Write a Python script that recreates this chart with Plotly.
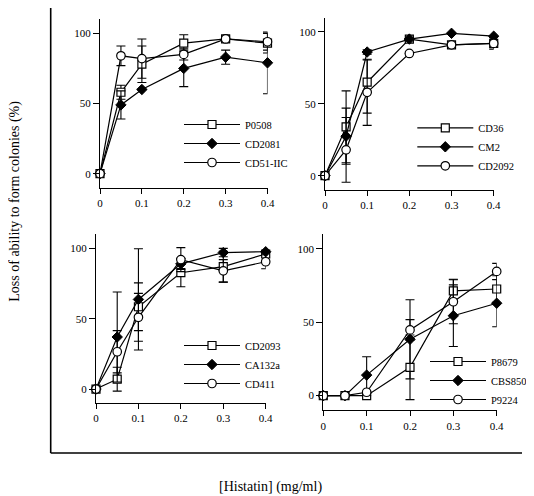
import plotly.graph_objects as go

# ---------------- data ----------------
conc = [0, 0.05, 0.1, 0.2, 0.3, 0.4]
x_tick_vals = [0, 0.1, 0.2, 0.3, 0.4]
x_tick_text = ["0", "0.1", "0.2", "0.3", "0.4"]
y_tick_vals = [0, 50, 100]
y_tick_text = ["0", "50", "100"]

# panel 1
p1_names = ["P0508", "CD2081", "CD51-IIC"]
p1_P0508 = [0, 58, 78, 93, 96, 93]
p1_P0508_err = [0, 5, 13, 6, 2, 7]
p1_CD2081 = [0, 49, 60, 75, 83, 79]
p1_CD2081_err = [0, 10, 0, 13, 5, 22]
p1_CD51 = [0, 84, 82, 85, 96, 94]
p1_CD51_err = [0, 7, 14, 4, 0, 6]

# panel 2
p2_names = ["CD36", "CM2", "CD2092"]
p2_CD36 = [0, 34, 65, 95, 91, 92]
p2_CD36_err_plus = [0, 25, 15.5, 0, 0, 4]
p2_CD36_err_minus = [0, 25, 21.5, 0, 0, 4]
p2_CM2 = [0, 27.5, 86, 95, 99, 97]
p2_CM2_err = [0, 19.5, 1.6, 0, 0, 0]
p2_CD2092 = [0, 18, 58, 85, 91, 92]
p2_CD2092_err = [0, 22.5, 23, 0, 0, 0]

# panel 3
p3_names = ["CD2093", "CA132a", "CD411"]
p3_CD2093 = [0, 7, 58.5, 82.7, 87, 96]
p3_CD2093_err = [0, 8.5, 17, 10, 11, 0]
p3_CA132a = [0, 37, 63.7, 89, 97, 97.6]
p3_CA132a_err = [0, 32, 36, 4, 3, 0]
p3_CD411 = [0, 26.5, 51, 92, 84, 90.5]
p3_CD411_err = [0, 15, 17, 8.5, 8, 5]

# panel 4
p4_names = ["P8679", "CBS8501", "P9224"]
p4_P8679 = [0, 0, 0, 19.3, 71.4, 72.7]
p4_P8679_err = [0, 0, 0, 22, 8, 9]
p4_CBS8501 = [0, 0, 14, 38.4, 54.5, 63]
p4_CBS8501_err = [0, 0, 12.5, 27, 21, 16]
p4_P9224 = [0, 0, 2.3, 44.8, 64, 84.7]
p4_P9224_err = [0, 0, 0, 7, 15, 5.5]

# ---------------- figure ----------------
W, H = 534, 496
OFF = 8  # page body margin offsets the figure inside the window
FONT = "Liberation Serif, Times New Roman, serif"

def px_x(p):
    return (p - OFF) / W

def px_y(p):
    return 1 - (p - OFF) / H

styles = [
    dict(symbol="square", size=8, color="white", line=dict(color="black", width=1.2)),
    dict(symbol="diamond", size=8, color="black", line=dict(color="black", width=1)),
    dict(symbol="circle", size=8.5, color="white", line=dict(color="black", width=1.2)),
]

fig = go.Figure()

def add(panel, name, y, style_idx, err_plus, err_minus=None):
    sfx = "" if panel == 1 else str(panel)
    ed = dict(type="data", array=err_plus, color="black", thickness=1.1, width=4.5)
    if err_minus is not None:
        ed["symmetric"] = False
        ed["arrayminus"] = err_minus
    fig.add_trace(go.Scatter(
        x=conc, y=y, name=name, mode="lines+markers",
        line=dict(color="black", width=1.2),
        marker=styles[style_idx],
        error_y=ed,
        cliponaxis=False,
        xaxis="x" + sfx, yaxis="y" + sfx,
        legend="legend" + sfx,
    ))

add(1, p1_names[0], p1_P0508, 0, p1_P0508_err)
add(1, p1_names[1], p1_CD2081, 1, p1_CD2081_err)
add(1, p1_names[2], p1_CD51, 2, p1_CD51_err)

add(2, p2_names[0], p2_CD36, 0, p2_CD36_err_plus, p2_CD36_err_minus)
add(2, p2_names[1], p2_CM2, 1, p2_CM2_err)
add(2, p2_names[2], p2_CD2092, 2, p2_CD2092_err)

add(3, p3_names[0], p3_CD2093, 0, p3_CD2093_err)
add(3, p3_names[1], p3_CA132a, 1, p3_CA132a_err)
add(3, p3_names[2], p3_CD411, 2, p3_CD411_err)

add(4, p4_names[0], p4_P8679, 0, p4_P8679_err)
add(4, p4_names[1], p4_CBS8501, 1, p4_CBS8501_err)
add(4, p4_names[2], p4_P9224, 2, p4_P9224_err)

# panel pixel boxes (window pixels): (x0, x1) for conc 0..0.4, (ytop, ybottom) for y 110..-10
panels = {
    1: ((100.0, 267.5), (19.3, 187.7)),
    2: ((325.0, 493.7), (17.5, 190.1)),
    3: ((96.0, 265.7), (234.3, 403.1)),
    4: ((323.3, 496.7), (234.3, 410.3)),
}
# legend anchor (window pixels) and anchor side
legend_pos = {
    1: (179.0, 110.0, "left"),
    2: (412.3, 113.3, "left"),
    3: (179.0, 331.0, "left"),
    4: (537.0, 347.0, "right"),
}

axis_common = dict(showline=True, linecolor="black", linewidth=1.3, ticks="outside",
                   tickcolor="black", tickwidth=1.2, showgrid=False, zeroline=False,
                   tickfont=dict(family=FONT, size=11, color="black"))

layout = dict(
    width=W, height=H, margin=dict(l=0, r=0, t=0, b=0, autoexpand=False),
    paper_bgcolor="white", plot_bgcolor="white",
    font=dict(family=FONT, color="black"),
)
for p, ((x0, x1), (yt, yb)) in panels.items():
    sfx = "" if p == 1 else str(p)
    layout["xaxis" + sfx] = dict(axis_common, domain=[px_x(x0), px_x(x1)], range=[0, 0.4],
                                 tickvals=x_tick_vals, ticktext=x_tick_text, ticklen=5,
                                 anchor="y" + sfx)
    layout["yaxis" + sfx] = dict(axis_common, domain=[px_y(yb), px_y(yt)], range=[-10, 110],
                                 tickvals=y_tick_vals, ticktext=y_tick_text, ticklen=6,
                                 anchor="x" + sfx)
    lx, ly, anc = legend_pos[p]
    layout["legend" + sfx] = dict(x=px_x(lx), y=px_y(ly), xanchor=anc, yanchor="top",
                                  bgcolor="rgba(0,0,0,0)", borderwidth=0, itemwidth=56,
                                  font=dict(family=FONT, size=10.5, color="black"),
                                  itemclick=False, itemdoubleclick=False)

fig.update_layout(**layout)

# outer frame
fig.add_shape(type="line", xref="paper", yref="paper", x0=px_x(50.7), x1=px_x(50.7),
              y0=px_y(8), y1=px_y(453), line=dict(color="black", width=1.6))
fig.add_shape(type="line", xref="paper", yref="paper", x0=px_x(50.7), x1=px_x(522),
              y0=px_y(453), y1=px_y(453), line=dict(color="black", width=1.6))

fig.add_annotation(text="Loss of ability to form colonies (%)", xref="paper", yref="paper",
                   x=px_x(15), y=px_y(201.7), xanchor="center", yanchor="middle",
                   textangle=-90, showarrow=False,
                   font=dict(family=FONT, size=14, color="black"))
fig.add_annotation(text="[Histatin] (mg/ml)", xref="paper", yref="paper",
                   x=px_x(270), y=px_y(487), xanchor="center", yanchor="middle",
                   showarrow=False,
                   font=dict(family=FONT, size=14, color="black"))

fig.write_html("out.html")
